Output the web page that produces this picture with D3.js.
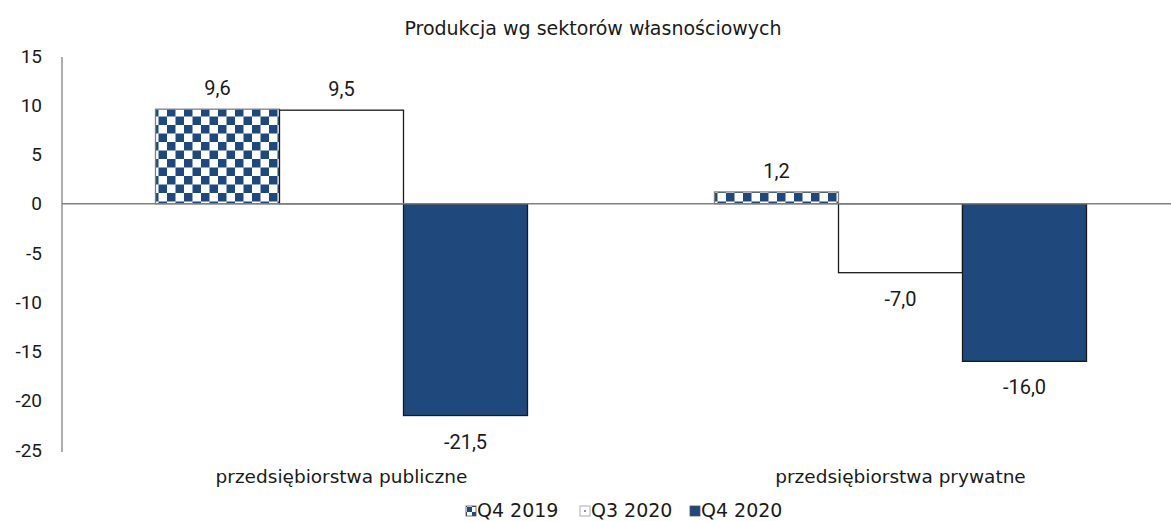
<!DOCTYPE html>
<html>
<head>
<meta charset="utf-8">
<script src="https://cdn.jsdelivr.net/npm/d3@7"></script>
<style>
  html, body { margin: 0; padding: 0; background: #fff; }
  svg text { fill: #1a1a1a; }
</style>
</head>
<body>
<div id="chart"></div>
<script>
// data
const categories = ["przedsiębiorstwa publiczne", "przedsiębiorstwa prywatne"];
const seriesNames = ["Q4 2019", "Q3 2020", "Q4 2020"];
const q4_2019 = [9.6, 1.2];
const q3_2020 = [9.5, -7.0];
const q4_2020 = [-21.5, -16.0];
const yTicks = [15, 10, 5, 0, -5, -10, -15, -20, -25];
const chartTitle = "Produkcja wg sektorów własnościowych";

const seriesValues = [q4_2019, q3_2020, q4_2020];
const rows = categories.map((c, i) => ({
  cat: c,
  vals: seriesNames.map((s, j) => ({ key: s, idx: j, v: seriesValues[j][i] }))
}));

const W = 1171, H = 521;
const navy = "#1f497d";
const labelFont = "Roboto, 'Liberation Sans', sans-serif";
const textFont = "'DejaVu Sans', Verdana, sans-serif";

const svg = d3.select("#chart").append("svg")
  .attr("width", W).attr("height", H);

// checker pattern
const defs = svg.append("defs");
const cs = 8.5;
const pat = defs.append("pattern").attr("id", "checker")
  .attr("patternUnits", "userSpaceOnUse")
  .attr("width", cs * 2).attr("height", cs * 2)
  .attr("x", 156).attr("y", 108);
pat.append("rect").attr("width", cs * 2).attr("height", cs * 2).attr("fill", "#fff");
pat.append("rect").attr("width", cs).attr("height", cs).attr("fill", navy);
pat.append("rect").attr("x", cs).attr("y", cs).attr("width", cs).attr("height", cs).attr("fill", navy);

const pat2 = defs.append("pattern").attr("id", "checkerSmall")
  .attr("patternUnits", "userSpaceOnUse")
  .attr("width", 10).attr("height", 10).attr("x", 466).attr("y", 506);
pat2.append("rect").attr("width", 10).attr("height", 10).attr("fill", "#fff");
pat2.append("rect").attr("width", 5).attr("height", 5).attr("fill", navy);
pat2.append("rect").attr("x", 5).attr("y", 5).attr("width", 5).attr("height", 5).attr("fill", navy);

// scales
const x0 = d3.scaleBand().domain(categories).range([62, 1180]).paddingInner(0).paddingOuter(0);
const x1 = d3.scaleBand().domain(seriesNames).range([0, x0.bandwidth()]).paddingInner(0).paddingOuter(0.754);
const y = d3.scaleLinear().domain([-25, 15]).range([450, 56]);

const minus = s => s.replace(/\u2212/g, "-");

// title
svg.append("text").attr("x", 593).attr("y", 35)
  .attr("text-anchor", "middle")
  .style("font-family", textFont).style("font-size", "19px")
  .text(chartTitle);

// y axis
const yAxis = d3.axisLeft(y).tickValues(yTicks).tickSize(0).tickPadding(20)
  .tickFormat(d => minus(d3.format("d")(d)));
const gy = svg.append("g").attr("transform", "translate(62,0)").call(yAxis);
gy.select(".domain").attr("stroke", "#808080").attr("stroke-width", 1.3)
  .attr("d", `M0,${y(15) + 1}V${y(-25) + 2}`);
gy.selectAll("text").style("font-family", labelFont).style("font-size", "19px")
  .attr("fill", "#1a1a1a").attr("text-anchor", "end");

// bars
const fills = ["url(#checker)", "#fff", navy];
const strokes = ["#808080", "#1a1a1a", "#1a1a1a"];
const groups = svg.append("g").selectAll("g").data(rows).join("g")
  .attr("transform", d => `translate(${x0(d.cat)},0)`);

groups.selectAll("rect").data(d => d.vals).join("rect")
  .attr("x", d => x1(d.key))
  .attr("width", x1.bandwidth())
  .attr("y", d => y(Math.max(0, d.v)))
  .attr("height", d => Math.abs(y(d.v) - y(0)))
  .attr("fill", d => fills[d.idx])
  .attr("stroke", d => strokes[d.idx])
  .attr("stroke-width", 1.3);

// zero line
svg.append("line").attr("x1", 62).attr("x2", W).attr("y1", y(0)).attr("y2", y(0))
  .attr("stroke", "#808080").attr("stroke-width", 1.5);

// value labels
const fmt = v => minus(d3.format(".1f")(v)).replace(".", ",");
groups.selectAll("text.val").data(d => d.vals).join("text")
  .attr("class", "val")
  .attr("x", d => x1(d.key) + x1.bandwidth() / 2)
  .attr("y", d => d.v >= 0 ? y(d.v) - 14 : y(d.v) + 33)
  .attr("text-anchor", "middle")
  .style("font-family", labelFont).style("font-size", "20px")
  .text(d => fmt(d.v));

// category labels
svg.append("g").selectAll("text").data(categories).join("text")
  .attr("x", d => x0(d) + x0.bandwidth() / 2)
  .attr("y", 483)
  .attr("text-anchor", "middle")
  .style("font-family", textFont).style("font-size", "18.5px")
  .text(d => d);

// legend
const legendX = [466, 580, 690];
const lg = svg.append("g").selectAll("g").data(seriesNames).join("g")
  .attr("transform", (d, i) => `translate(${legendX[i]},506)`);
lg.append("rect").attr("width", 10).attr("height", 10)
  .attr("fill", (d, i) => i === 0 ? "url(#checkerSmall)" : i === 1 ? "#fff" : navy)
  .attr("stroke", (d, i) => i === 1 ? "#999" : "#555").attr("stroke-width", 0.8);
lg.filter((d, i) => i === 1).append("circle").attr("cx", 5).attr("cy", 5).attr("r", 1)
  .attr("fill", "#4a74b0");
lg.append("text").attr("x", 11).attr("y", 11)
  .style("font-family", textFont).style("font-size", "19px")
  .text(d => d);
</script>
</body>
</html>
